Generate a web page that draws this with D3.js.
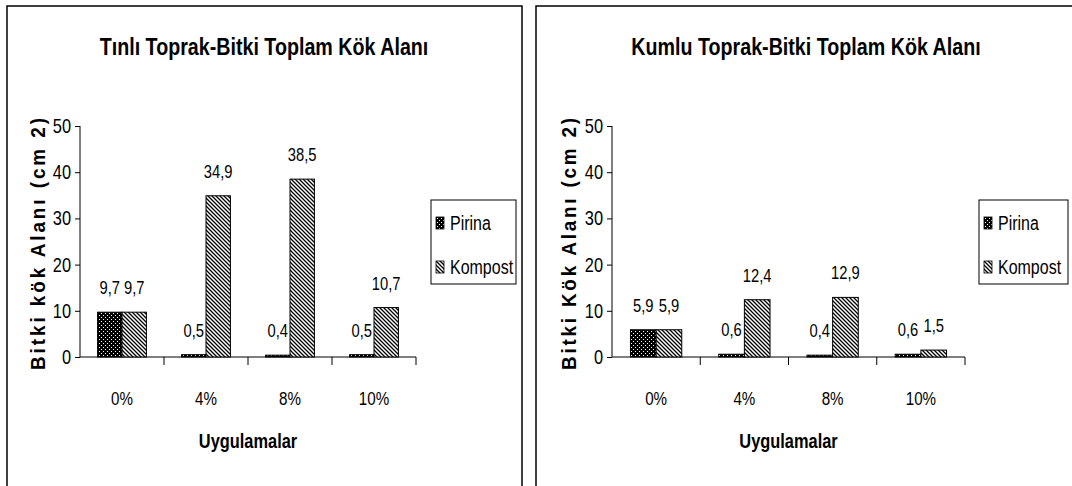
<!DOCTYPE html>
<html>
<head>
<meta charset="utf-8">
<script src="https://cdn.jsdelivr.net/npm/d3@7"></script>
<style>
  html, body { margin: 0; padding: 0; background: #fff; }
  svg { display: block; }
  text { font-family: "Liberation Sans", Arial, sans-serif; fill: #000; }
</style>
</head>
<body>
<svg id="chart" width="1072" height="486"></svg>
<script>
// Uygulama dozları ve seriler
const categories = ["0%", "4%", "8%", "10%"];
const seriesNames = ["Pirina", "Kompost"];
const yTicks = [0, 10, 20, 30, 40, 50];

// Tınlı toprak – toplam kök alanı (cm²)
const tinliPirina  = [9.7, 0.5, 0.4, 0.5];
const tinliKompost = [9.7, 34.9, 38.5, 10.7];

// Kumlu toprak – toplam kök alanı (cm²)
const kumluPirina  = [5.9, 0.6, 0.4, 0.6];
const kumluKompost = [5.9, 12.4, 12.9, 1.5];

const titles  = ["Tınlı Toprak-Bitki Toplam Kök Alanı", "Kumlu Toprak-Bitki Toplam Kök Alanı"];
const yTitles = ["Bitki kök Alanı (cm 2)", "Bitki Kök Alanı (cm 2)"];
const xTitle  = "Uygulamalar";

const NARROW = 0.82; // condensed look of the typeface

const svg = d3.select("#chart");

// Fill patterns: dotted black for Pirina, diagonal hatch for Kompost
const defs = svg.append("defs");
const dots = defs.append("pattern").attr("id", "pat-pirina")
  .attr("patternUnits", "userSpaceOnUse").attr("width", 4).attr("height", 4);
dots.append("rect").attr("width", 4).attr("height", 4).attr("fill", "#000");
dots.append("rect").attr("x", 1).attr("y", 1).attr("width", 1).attr("height", 1).attr("fill", "#fff");
dots.append("rect").attr("x", 3).attr("y", 3).attr("width", 1).attr("height", 1).attr("fill", "#fff");

const hatch = defs.append("pattern").attr("id", "pat-kompost")
  .attr("patternUnits", "userSpaceOnUse").attr("width", 4).attr("height", 4);
hatch.append("rect").attr("width", 4).attr("height", 4).attr("fill", "#fff");
hatch.append("path").attr("d", "M-1,-1 L5,5 M-1,3 L1,5 M3,-1 L5,1")
  .attr("stroke", "#000").attr("stroke-width", 1.3);

const fills = { "Pirina": "url(#pat-pirina)", "Kompost": "url(#pat-kompost)" };

const panels = [
  { frame: { x: 7, y: 6, w: 515 }, titleX: 264, plot: { left: 80, right: 416, top: 126, bottom: 357 },
    yLabelX: 45, legend: { x: 431, y: 200, w: 85, h: 84 },
    title: titles[0], yTitle: yTitles[0], values: [tinliPirina, tinliKompost] },
  { frame: { x: 536, y: 6, w: 540 }, titleX: 806, plot: { left: 612, right: 965, top: 126, bottom: 357 },
    yLabelX: 576, legend: { x: 979, y: 200, w: 89, h: 84 },
    title: titles[1], yTitle: yTitles[1], values: [kumluPirina, kumluKompost] }
];

const fmt = v => d3.format(".1f")(v).replace(".", ",");

panels.forEach(p => {
  const g = svg.append("g");

  // chart area border (bottom edge runs off the page)
  g.append("path")
    .attr("d", `M${p.frame.x},${500} V${p.frame.y} H${p.frame.x + p.frame.w} V500`)
    .attr("fill", "none").attr("stroke", "#000").attr("stroke-width", 1.5);

  g.append("text").attr("class", "nar").attr("x", p.titleX).attr("y", 55).attr("text-anchor", "middle")
    .attr("font-size", 24).attr("font-weight", "bold").text(p.title);

  const x0 = d3.scaleBand().domain(categories).range([p.plot.left, p.plot.right]).padding(0);
  const x1 = d3.scaleBand().domain(seriesNames).range([0, x0.bandwidth()])
    .paddingInner(0).paddingOuter(0.72);
  const y = d3.scaleLinear().domain([0, 50]).range([p.plot.bottom, p.plot.top]);

  // y axis
  const yAxis = g.append("g").attr("transform", `translate(${p.plot.left},0)`)
    .call(d3.axisLeft(y).tickValues(yTicks).tickSize(5).tickPadding(4).tickFormat(d3.format("d")));
  yAxis.selectAll("text").attr("class", "nar").attr("font-size", 20).attr("font-family", null);
  yAxis.selectAll("line, path").attr("stroke", "#000");
  yAxis.select(".domain").attr("d", `M-0,${p.plot.top}V${p.plot.bottom}`);

  // x axis with ticks between categories
  const xAxis = g.append("g").attr("transform", `translate(0,${p.plot.bottom})`);
  xAxis.append("line").attr("x1", p.plot.left).attr("x2", p.plot.right)
    .attr("stroke", "#000");
  const bounds = categories.map(c => x0(c) + x0.bandwidth());
  xAxis.selectAll("line.tk").data(bounds).join("line").attr("class", "tk")
    .attr("x1", d => d).attr("x2", d => d).attr("y1", 0).attr("y2", 8).attr("stroke", "#000");
  xAxis.selectAll("text").data(categories).join("text").attr("class", "nar")
    .attr("x", d => x0(d) + x0.bandwidth() / 2).attr("y", 48)
    .attr("text-anchor", "middle").attr("font-size", 18.5).text(d => d);

  // bars
  seriesNames.forEach((s, si) => {
    const vals = p.values[si];
    g.append("g").selectAll("rect").data(vals).join("rect")
      .attr("x", (d, i) => x0(categories[i]) + x1(s))
      .attr("y", d => y(d))
      .attr("width", x1.bandwidth())
      .attr("height", d => y(0) - y(d))
      .attr("fill", fills[s]).attr("stroke", "#000").attr("stroke-width", 1);
    g.append("g").selectAll("text").data(vals).join("text").attr("class", "nar")
      .attr("x", (d, i) => x0(categories[i]) + x1(s) + x1.bandwidth() / 2)
      .attr("y", d => y(d) - 18)
      .attr("text-anchor", "middle").attr("font-size", 18).text(d => fmt(d));
  });

  // axis titles
  g.append("text").attr("class", "nar").attr("x", (p.plot.left + p.plot.right) / 2).attr("y", 448)
    .attr("text-anchor", "middle").attr("font-size", 20).attr("font-weight", "bold").text(xTitle);
  g.append("text")
    .attr("transform", `translate(${p.yLabelX},244) rotate(-90) scale(0.9,1)`)
    .attr("text-anchor", "middle").attr("font-size", 21).attr("font-weight", "bold")
    .attr("textLength", 252 / 0.9).attr("lengthAdjust", "spacing").text(p.yTitle);

  // legend
  const lg = g.append("g").attr("transform", `translate(${p.legend.x},${p.legend.y})`);
  lg.append("rect").attr("width", p.legend.w).attr("height", p.legend.h)
    .attr("fill", "#fff").attr("stroke", "#000").attr("stroke-width", 1);
  seriesNames.forEach((s, i) => {
    const row = lg.append("g").attr("transform", `translate(5,${17 + i * 44})`);
    row.append("rect").attr("width", 8).attr("height", 12)
      .attr("fill", fills[s]).attr("stroke", "#000").attr("stroke-width", 0.8);
    row.append("text").attr("class", "nar").attr("x", 14).attr("y", 13).attr("font-size", 19.5).text(s);
  });
});

// condense the regular-width face horizontally around each text's anchor point
svg.selectAll("text.nar").each(function () {
  const t = d3.select(this);
  const tx = +t.attr("x") || 0, ty = +t.attr("y") || 0;
  const prev = t.attr("transform") || "";
  t.attr("x", 0).attr("y", 0)
    .attr("transform", `${prev} translate(${tx},${ty}) scale(${NARROW},1)`);
});
</script>
</body>
</html>
